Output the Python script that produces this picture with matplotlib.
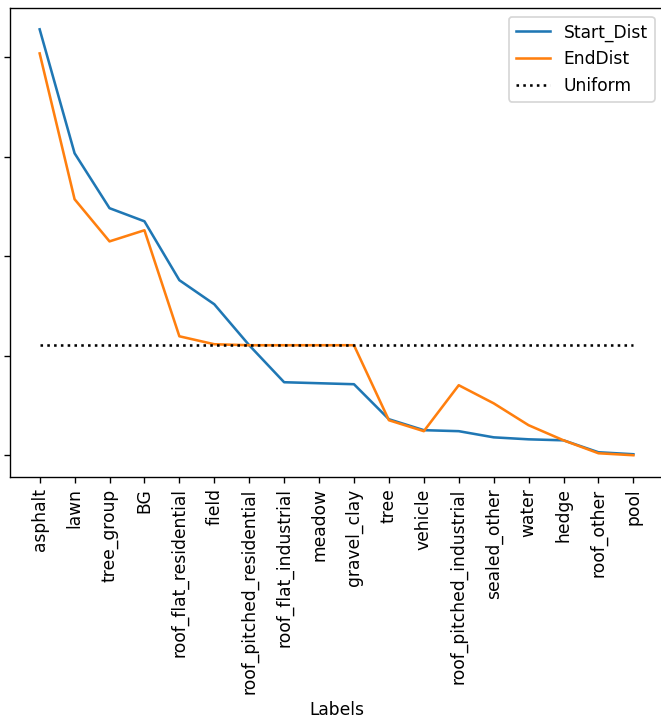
import matplotlib
matplotlib.use("Agg")
import matplotlib.pyplot as plt

# class labels, sorted by start distribution
labels = ["asphalt", "lawn", "tree_group", "BG", "roof_flat_residential", "field",
          "roof_pitched_residential", "roof_flat_industrial", "meadow", "gravel_clay",
          "tree", "vehicle", "roof_pitched_industrial", "sealed_other", "water",
          "hedge", "roof_other", "pool"]

start_dist = [0.2141, 0.1518, 0.1242, 0.1176, 0.0880, 0.0759, 0.0553, 0.0367, 0.0362,
              0.0357, 0.0181, 0.0126, 0.0121, 0.0090, 0.0080, 0.0075, 0.0015, 0.0005]

end_dist = [0.2020, 0.1287, 0.1075, 0.1131, 0.0598, 0.0558, 0.0553, 0.0553, 0.0553,
            0.0553, 0.0176, 0.0121, 0.0352, 0.0261, 0.0151, 0.0075, 0.0010, 0.0000]

uniform = [1 / len(labels)] * len(labels)

# screenshot looks like a ~1.23x scaled render, so use a higher dpi
dpi = 123
fig = plt.figure(figsize=(661 / dpi, 718 / dpi), dpi=dpi)
ax = fig.add_axes([0.0151, 0.3363, 0.988, 0.6525])

ax.plot(labels, start_dist, label="Start_Dist")
ax.plot(labels, end_dist, label="EndDist")
ax.plot(labels, uniform, ":", color="black", label="Uniform")

ax.set_yticks([0.0, 0.05, 0.10, 0.15, 0.20])
ax.set_yticklabels([])
ax.tick_params(axis="x", labelrotation=90)
ax.set_xlabel("Labels")
ax.legend(loc="upper right")

fig.savefig("out.png")
